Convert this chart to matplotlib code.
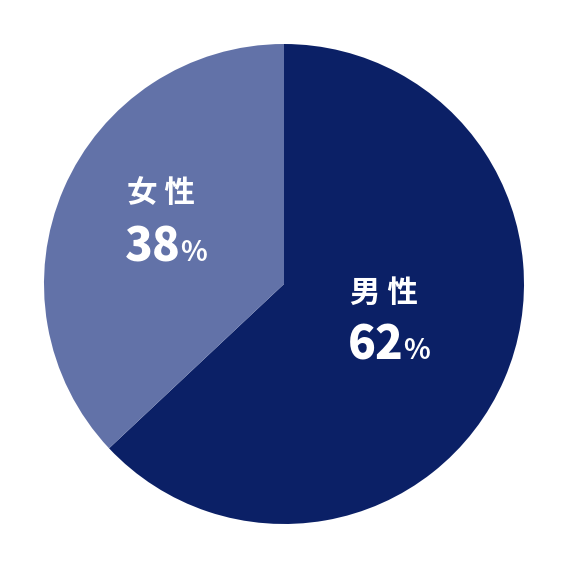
import matplotlib
matplotlib.use("Agg")
import matplotlib.pyplot as plt

plt.rcParams['font.family'] = ['Noto Sans CJK JP', 'DejaVu Sans']

labels = ["男 性", "女 性"]
pct_text = ["62", "38"]
# wedge sizes as drawn in the picture (the boundary sits at ~37%)
shares = [63, 37]
colors = ["#0b2066", "#6272a8"]
# label anchor (left edge, pixel coords from top-left)
label_pos = [(350, 293), (127, 193)]
pct_pos = [(350, 346), (127, 248)]

H = 568

fig = plt.figure(figsize=(5.68, 5.68), dpi=100)
ax = fig.add_axes([0, 0, 1, 1])

# pie in pixel space: centre (284, 284), radius 240
ax.pie(shares, colors=colors, startangle=90, counterclock=False,
       radius=240, center=(284, 284), frame=True,
       wedgeprops=dict(linewidth=0))
ax.set_xlim(0, H)
ax.set_ylim(0, H)
ax.set_aspect("equal")
ax.axis("off")

fig.canvas.draw()
r = fig.canvas.get_renderer()
for lab, val, (lx, ly), (px, py) in zip(labels, pct_text, label_pos, pct_pos):
    ax.text(lx, H - ly, lab, color="white", fontsize=22, fontweight="bold",
            ha="left", va="center")
    t = ax.text(px - 2, H - py, val, color="white", fontsize=33,
                fontweight="heavy", ha="left", va="center")
    bb = t.get_window_extent(renderer=r)
    x_end = ax.transData.inverted().transform((bb.x1, bb.y0))[0]
    ax.text(x_end - 1, H - py - 5, "%", color="white", fontsize=20,
            fontweight="bold", ha="left", va="center")

fig.savefig("out.png", dpi=100, facecolor="white")
